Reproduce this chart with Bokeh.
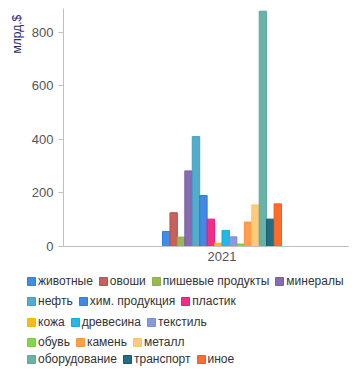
import math
from bokeh.plotting import figure
from bokeh.models import (ColumnDataSource, Range1d, FixedTicker, Legend, LegendItem, Label)
from bokeh.embed import file_html
from bokeh.resources import INLINE

year = "2021"
categories = ["животные", "овоши", "пишевые продукты", "минералы",
              "нефть", "хим. продукция", "пластик",
              "кожа", "древесина", "текстиль",
              "обувь", "камень", "металл",
              "оборудование", "транспорт", "иное"]
values = [56, 126, 35, 282, 410, 190, 102, 12, 60, 36, 9, 91, 155, 878, 102, 159]
colors = ["#2f7fe0", "#c0504d", "#8fb046", "#7a5ca8", "#3fa3c4", "#2f7be0", "#f0187c",
          "#ffb300", "#13aee0", "#7b8fd8", "#74d136", "#ff9438", "#ffc46c",
          "#5aa89e", "#0d5d72", "#ff5c16"]
y_ticks = [0, 200, 400, 600, 800]
y_max = 888
legend_rows = [[0, 1, 2, 3], [4, 5, 6], [7, 8, 9], [10, 11, 12], [13, 14, 15]]

n = len(values)
xs = [i - (n - 1) / 2 for i in range(n)]
source = ColumnDataSource(dict(x=xs, top=values, color=colors, name=categories))

X0, X1 = -29.78, 17.14     # visible x extent
AXIS_X = -21.31             # where the value axis stands
p = figure(width=349, height=366, output_backend="svg", toolbar_location=None,
           x_range=Range1d(X0, X1), y_range=Range1d(-448, 918), min_border=0)
p.outline_line_color = None
p.xgrid.visible = False
p.ygrid.visible = False

r = p.vbar(x="x", top="top", width=1, source=source, fill_color="color",
           fill_alpha=0.9, line_color="color", line_width=1)

# y axis
p.yaxis.fixed_location = AXIS_X
p.yaxis.bounds = (0, y_max)
p.yaxis.ticker = FixedTicker(ticks=y_ticks)
p.yaxis.minor_tick_line_color = None
p.yaxis.major_tick_in = 0
p.yaxis.major_tick_out = 5
p.yaxis.major_tick_line_color = "#c0c0c0"
p.yaxis.axis_line_color = "#c0c0c0"
p.yaxis.major_label_text_font = "Liberation Sans"
p.yaxis.major_label_text_font_size = "13px"
p.yaxis.major_label_text_color = "#555555"
p.yaxis.major_label_standoff = 5

# x axis
p.xaxis.fixed_location = 0
p.xaxis.bounds = (AXIS_X, X1)
p.xaxis.ticker = FixedTicker(ticks=[0])
p.xaxis.major_label_overrides = {0: year}
p.xaxis.minor_tick_line_color = None
p.xaxis.major_tick_in = 0
p.xaxis.major_tick_out = 0
p.xaxis.axis_line_color = "#c0c0c0"
p.xaxis.major_label_text_font = "Liberation Sans"
p.xaxis.major_label_text_font_size = "13px"
p.xaxis.major_label_text_color = "#555555"
p.xaxis.major_label_standoff = 6

# y axis title at the top-left, rotated
unit_label = Label(x=16, y=313, x_units="screen", y_units="screen", text="млрд.$",
                   angle=math.pi / 2, text_align="left", text_baseline="middle",
                   text_font="Liberation Sans", text_font_size="12px",
                   text_color="#2c2c6e")
p.add_layout(unit_label)

# legends, one per row
row_bottoms = [78, 58, 37, 17, 0]
for row, vy in zip(legend_rows, row_bottoms):
    items = [LegendItem(label=categories[i], renderers=[r], index=i) for i in row]
    lg = Legend(items=items, orientation="horizontal", location=(26, vy),
                padding=0, margin=0, spacing=5, label_standoff=2,
                glyph_width=10, glyph_height=10, label_height=12,
                label_text_font="Liberation Sans", label_text_font_size="12px",
                label_text_color="#333333", border_line_color=None,
                background_fill_alpha=0, click_policy="none")
    p.add_layout(lg, "center")

open("out.html", "w").write(file_html(p, INLINE))
